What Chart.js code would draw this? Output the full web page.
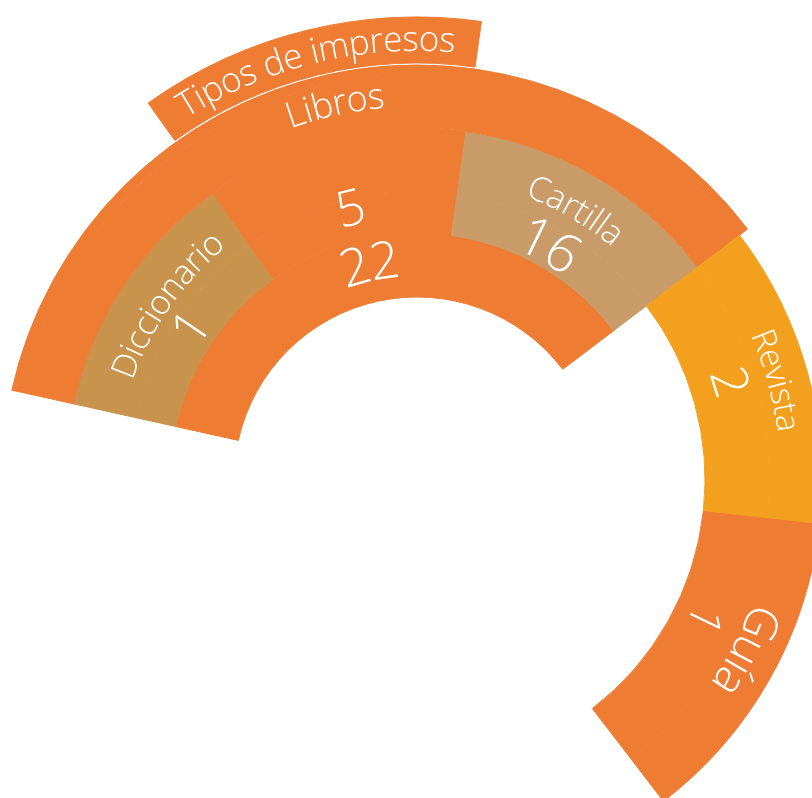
<!DOCTYPE html>
<html><head><meta charset="utf-8">
<script src="https://cdn.jsdelivr.net/npm/chart.js@4"></script>
<style>html,body{margin:0;padding:0;background:#fff;overflow:hidden}canvas{display:block}</style>
</head><body>
<canvas id="c" width="812" height="798"></canvas>
<script>
// ---- data ----
const title = 'Tipos de impresos';
const categories = ['Libros', 'Revista', 'Guía'];
const categoryCounts = [22, 2, 1];
const bookTypes = ['Diccionario', '', 'Cartilla'];
const bookTypeCounts = [1, 5, 16];
// angular share (degrees) of each leaf slice: Diccionario, (5), Cartilla, Revista, Guía
const leafSpans = [42, 43.5, 44.8, 43.5, 46.2];

// ---- styles ----
const ORANGE = '#EE7C33', TAN1 = '#C8934C', TAN2 = '#C99B68', YELLOW = '#F3A01E', NONE = 'rgba(0,0,0,0)';
const FONT = '"Open Sans", "Noto Sans", sans-serif';

const booksSpan = leafSpans[0] + leafSpans[1] + leafSpans[2];
const rest = 360 - leafSpans.reduce((a, b) => a + b, 0);
const leafData = [...leafSpans, rest];
const catData = [booksSpan, leafSpans[3], leafSpans[4], rest];

function ring(data, colors, weight) {
  return { data, backgroundColor: colors, borderColor: colors, borderWidth: 1, weight, clip: false, hoverOffset: 0 };
}
const datasets = [
  ring(leafData, [NONE, ORANGE, NONE, NONE, NONE, NONE], 46),        // 0 title tab
  ring(leafData, [NONE, NONE, NONE, NONE, NONE, NONE], 2),           // 1 gap
  ring(catData, [ORANGE, NONE, NONE, NONE], 10),                     // 2 Libros cap
  ring(catData, [ORANGE, YELLOW, ORANGE, NONE], 53),                 // 3 categories outer
  ring(leafData, [TAN1, ORANGE, TAN2, YELLOW, ORANGE, NONE], 64),    // 4 leaves / categories
  ring(leafData, [TAN1, ORANGE, TAN2, NONE, NONE, NONE], 41),        // 5 leaves lower
  ring(catData, [ORANGE, NONE, NONE, NONE], 64)                      // 6 Libros total
];

// labels: [dataset, element, text, radial fraction, font size, angle shift (deg)]
const labels = [
  [0, 1, title, 0.48, 35, 0],
  [3, 0, categories[0], 0.60, 36, 0],
  [6, 0, String(categoryCounts[0]), 0.56, 52, 0],
  [4, 0, bookTypes[0], 0.36, 34, 1.5],
  [5, 0, String(bookTypeCounts[0]), 0.56, 50, 0.5],
  [5, 1, String(bookTypeCounts[1]), 0.73, 50, 0],
  [4, 2, bookTypes[2], 0.40, 34, 0],
  [5, 2, String(bookTypeCounts[2]), 0.49, 54, -1],
  [3, 1, categories[1], 0.40, 33, 0],
  [4, 3, String(categoryCounts[1]), 0.58, 50, -2],
  [3, 2, categories[2], 0.34, 46, -2],
  [4, 4, String(categoryCounts[2]), 0.46, 46, -3.5]
];

function curvedText(ctx, text, cx, cy, r, mid) {
  const widths = [...text].map(ch => ctx.measureText(ch).width);
  const total = widths.reduce((a, b) => a + b, 0);
  let a = mid - total / (2 * r);
  [...text].forEach((ch, i) => {
    const ang = a + widths[i] / (2 * r);
    ctx.save();
    ctx.translate(cx + r * Math.cos(ang), cy + r * Math.sin(ang));
    ctx.rotate(ang + Math.PI / 2);
    ctx.fillText(ch, 0, 0);
    ctx.restore();
    a += widths[i] / r;
  });
}

const labelPlugin = {
  id: 'sunLabels',
  afterDatasetsDraw(chart) {
    const ctx = chart.ctx;
    ctx.save();
    ctx.fillStyle = '#ffffff';
    ctx.textAlign = 'center';
    ctx.textBaseline = 'middle';
    labels.forEach(([ds, idx, text, f, size, shift]) => {
      const el = chart.getDatasetMeta(ds).data[idx];
      const p = el.getProps(['x', 'y', 'startAngle', 'endAngle', 'innerRadius', 'outerRadius'], true);
      const mid = (p.startAngle + p.endAngle) / 2 + shift * Math.PI / 180;
      const r = p.innerRadius + f * (p.outerRadius - p.innerRadius);
      ctx.font = '300 ' + size + 'px ' + FONT;
      curvedText(ctx, text, p.x, p.y, r, mid);
    });
    ctx.restore();
  }
};

new Chart(document.getElementById('c'), {
  type: 'doughnut',
  data: { labels: [...bookTypes, categories[1], categories[2], ''], datasets },
  options: {
    responsive: false,
    animation: false,
    devicePixelRatio: 1,
    rotation: -77.5,
    circumference: 360,
    radius: 463,
    cutout: '39.525%',
    layout: { padding: { left: 22, top: 162, right: 0, bottom: 0 } },
    plugins: { legend: { display: false }, tooltip: { enabled: false } },
    events: []
  },
  plugins: [labelPlugin]
});
</script>
</body></html>
